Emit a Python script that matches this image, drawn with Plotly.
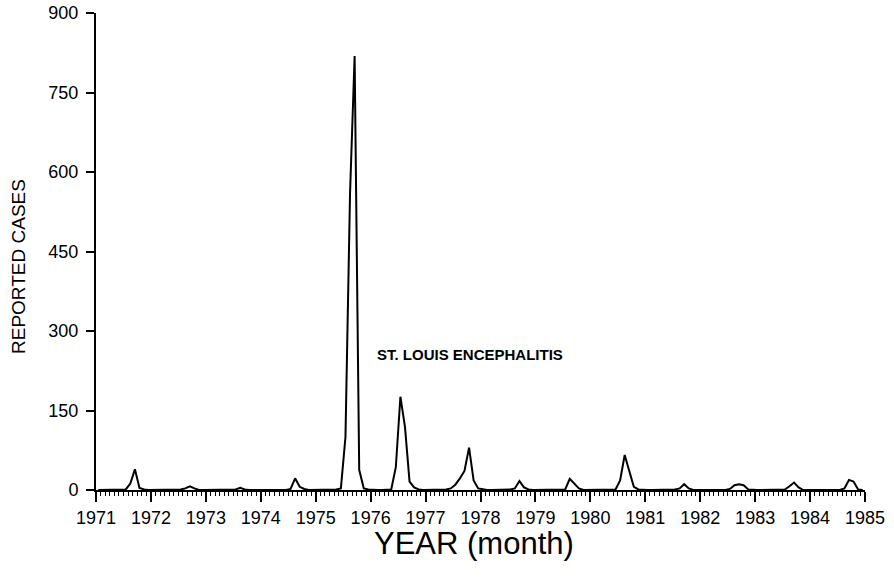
import plotly.graph_objects as go

years = list(range(1971, 1985))
cases_1971 = [0, 0, 0, 0, 0, 0, 1, 12, 39, 4, 1, 0]
cases_1972 = [0, 0, 0, 0, 0, 0, 1, 3, 7, 3, 0, 0]
cases_1973 = [0, 0, 0, 0, 0, 0, 1, 4, 1, 0, 0, 0]
cases_1974 = [0, 0, 0, 0, 0, 0, 2, 22, 6, 2, 0, 0]
cases_1975 = [0, 0, 0, 0, 1, 3, 100, 560, 819, 38, 3, 1]
cases_1976 = [0, 0, 0, 1, 1, 43, 176, 119, 16, 5, 1, 0]
cases_1977 = [0, 0, 0, 0, 1, 3, 10, 22, 36, 80, 18, 3]
cases_1978 = [1, 0, 0, 0, 0, 0, 1, 3, 17, 5, 1, 0]
cases_1979 = [0, 0, 0, 0, 0, 0, 1, 21, 11, 3, 0, 0]
cases_1980 = [0, 0, 0, 0, 0, 1, 18, 66, 36, 6, 1, 0]
cases_1981 = [0, 0, 0, 0, 0, 0, 1, 3, 11, 3, 0, 0]
cases_1982 = [0, 0, 0, 0, 0, 0, 2, 9, 11, 9, 1, 0]
cases_1983 = [0, 0, 0, 0, 0, 0, 1, 7, 14, 5, 0, 0]
cases_1984 = [0, 0, 0, 0, 0, 0, 0, 3, 19, 16, 1, 0]

yearly = [cases_1971, cases_1972, cases_1973, cases_1974, cases_1975, cases_1976,
          cases_1977, cases_1978, cases_1979, cases_1980, cases_1981, cases_1982,
          cases_1983, cases_1984]

y_ticks = [0, 150, 300, 450, 600, 750, 900]
x_ticks = list(range(1971, 1986))

xs, ys = [], []
for yr, vals in zip(years, yearly):
    for m, v in enumerate(vals):
        xs.append(yr + (m + 0.5) / 12)
        ys.append(v)

FONT = "Liberation Sans"
ML, MR, MT, MB = 96, 29, 13, 88
W, H = 894, 578
pw = W - ML - MR
ph = H - MT - MB

fig = go.Figure()
fig.add_trace(go.Scatter(x=xs, y=ys, mode="lines",
                         line=dict(color="black", width=2), hoverinfo="skip"))

fig.update_layout(
    width=W, height=H,
    margin=dict(l=ML, r=MR, t=MT, b=MB, autoexpand=False),
    paper_bgcolor="white", plot_bgcolor="white",
    showlegend=False,
    font=dict(family=FONT, color="black", size=16),
)
fig.update_xaxes(
    range=[1971, 1985], tickvals=x_ticks, ticktext=[str(v) for v in x_ticks],
    showgrid=False, zeroline=False, showline=True, linecolor="black", linewidth=2,
    ticks="outside", ticklen=10, tickwidth=1.5, tickcolor="black",
    tickfont=dict(size=18, family=FONT), automargin=False,
    minor=dict(dtick=1/12, tick0=1971, ticks="outside", ticklen=4,
               tickwidth=1.2, tickcolor="black", showgrid=False),
)
fig.update_yaxes(
    range=[0, 900], tickvals=y_ticks, ticktext=[str(v) for v in y_ticks],
    showgrid=False, zeroline=False, showline=True, linecolor="black", linewidth=2,
    ticks="outside", ticklen=8, tickwidth=1.5, tickcolor="black",
    tickfont=dict(size=18, family=FONT), ticklabelstandoff=4, automargin=False,
)

fig.add_annotation(x=1977.8, y=255, xref="x", yref="y", text="<b>ST. LOUIS ENCEPHALITIS</b>",
                   showarrow=False, font=dict(size=15, family=FONT, color="black"),
                   xanchor="center", yanchor="middle")
fig.add_annotation(x=(474 - ML) / pw, y=(H - MB - 543) / ph, xref="paper", yref="paper",
                   text="YEAR (month)", showarrow=False, xanchor="center", yanchor="middle",
                   font=dict(size=31, family=FONT, color="black"))
fig.add_annotation(x=(18 - ML) / pw, y=(H - MB - 267) / ph, xref="paper", yref="paper",
                   text="REPORTED CASES", textangle=-90, showarrow=False,
                   xanchor="center", yanchor="middle",
                   font=dict(size=19, family=FONT, color="black"))

fig.write_html("out.html")
